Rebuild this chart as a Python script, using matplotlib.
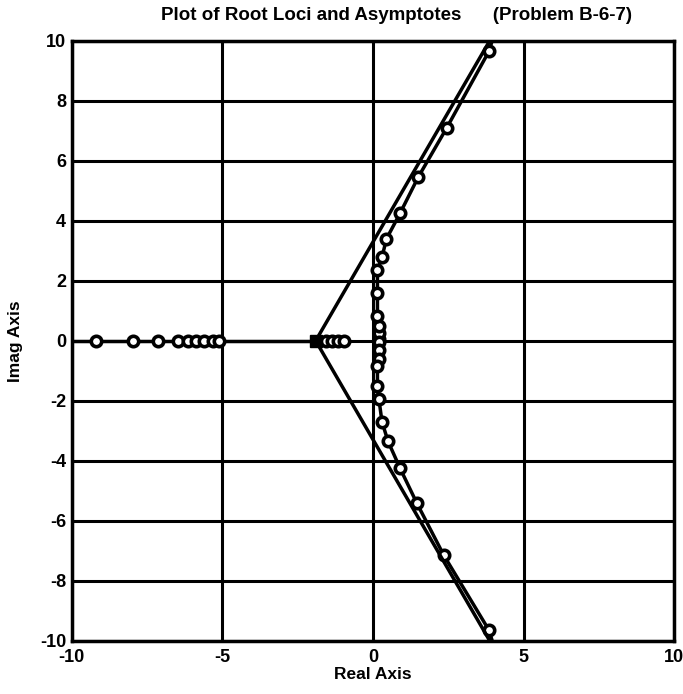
import numpy as np
import matplotlib
matplotlib.use('Agg')
import matplotlib.pyplot as plt

plt.rcParams['font.family'] = ['Liberation Sans', 'DejaVu Sans']
plt.rcParams['font.weight'] = 'bold'
plt.rcParams['axes.unicode_minus'] = False

# root locus points
real_branch_x = [-10.0, -9.2, -7.95, -7.12, -6.46, -6.13, -5.86, -5.6, -5.3, -5.1, -1.9]
real_branch_y = [0.0, 0.0, 0.0, 0.0, 0.0, 0.0, 0.0, 0.0, 0.0, 0.0, 0.0]
real_marks_x = [-9.2, -7.95, -7.12, -6.46, -6.13, -5.86, -5.6, -5.3, -5.1]

short_branch_x = [-1.9, -1.55, -1.35, -1.15, -0.95, -0.8]
short_marks_x = [-1.55, -1.35, -1.15, -0.95]

upper_x = [0.2, 0.2, 0.2, 0.15, 0.15, 0.15, 0.3, 0.45, 0.9, 1.5, 2.45, 3.85, 4.05]
upper_y = [0.05, 0.25, 0.5, 0.83, 1.6, 2.35, 2.78, 3.4, 4.25, 5.45, 7.1, 9.65, 10.3]
lower_x = [0.2, 0.2, 0.2, 0.15, 0.15, 0.2, 0.3, 0.5, 0.9, 1.45, 2.35, 3.85, 4.05]
lower_y = [-0.05, -0.3, -0.6, -0.83, -1.5, -1.95, -2.7, -3.35, -4.25, -5.4, -7.15, -9.65, -10.3]

# asymptotes: centroid and angles
sigma_a = -1.9
asym_angles = [60, -60]
asym_len = 14

pole_x = [-1.9]
pole_y = [0.0]

xticks = [-10, -5, 0, 5, 10]
yticks = [-10, -8, -6, -4, -2, 0, 2, 4, 6, 8, 10]

fig = plt.figure(figsize=(6.83, 6.94), dpi=100)
ax = fig.add_axes([0.105, 0.077, 0.882, 0.864])

ax.set_xlim(-10, 10)
ax.set_ylim(-10, 10)
ax.set_xticks(xticks)
ax.set_yticks(yticks)
ax.grid(True, color='black', linewidth=2.2, linestyle='-')
ax.tick_params(length=0, labelsize=13)
ax.tick_params(axis='x', pad=6)
ax.tick_params(axis='y', pad=4)
for lbl in ax.get_xticklabels() + ax.get_yticklabels():
    lbl.set_fontweight('bold')
for sp in ax.spines.values():
    sp.set_linewidth(2.5)

mk = dict(marker='o', markersize=7.5, markerfacecolor='white',
          markeredgecolor='black', markeredgewidth=2.6, linestyle='none')

# real axis branches
ax.plot(real_branch_x, real_branch_y, color='black', linewidth=2.5)
ax.plot(real_marks_x, np.zeros(len(real_marks_x)), **mk)
ax.plot(short_branch_x, np.zeros(len(short_branch_x)), color='black', linewidth=2.5)
ax.plot(short_marks_x, np.zeros(len(short_marks_x)), **mk)

# complex branches
ax.plot(upper_x, upper_y, color='black', linewidth=2.5)
ax.plot(upper_x[:-1], upper_y[:-1], **mk)
ax.plot(lower_x, lower_y, color='black', linewidth=2.5)
ax.plot(lower_x[:-1], lower_y[:-1], **mk)

# asymptotes
for a in asym_angles:
    t = np.radians(a)
    ax.plot([sigma_a, sigma_a + asym_len * np.cos(t)],
            [0, asym_len * np.sin(t)], color='black', linewidth=2.5)

ax.plot(pole_x, pole_y, marker='s', markersize=9, color='black', linestyle='none')

ax.set_xlabel('Real Axis', fontsize=12.5, fontweight='bold', labelpad=1)
ax.set_ylabel('Imag Axis', fontsize=12.5, fontweight='bold', labelpad=12)
fig.text(0.58, 0.978, 'Plot of Root Loci and Asymptotes      (Problem B-6-7)',
         ha='center', va='center', fontsize=13.5, fontweight='bold')

fig.savefig('out.png', dpi=100)
